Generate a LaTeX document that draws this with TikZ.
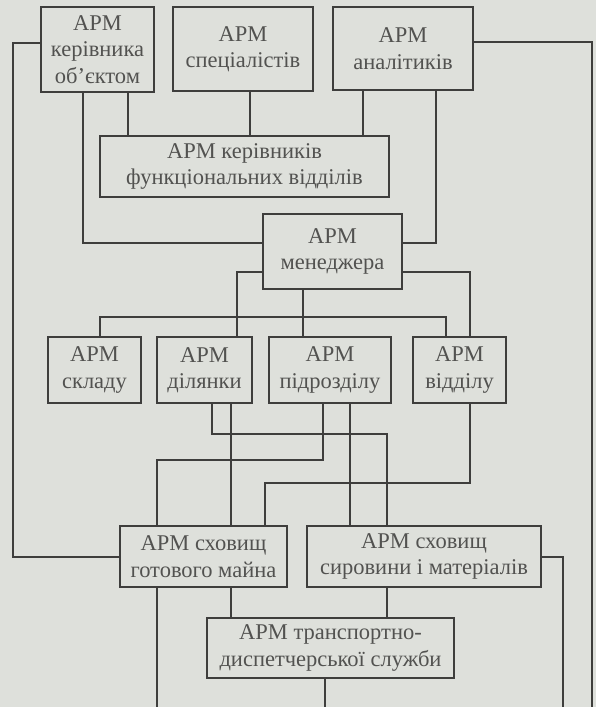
\documentclass[tikz,border=0pt]{standalone}
\usepackage{fontspec}
\setmainfont{Liberation Serif}
\definecolor{paper}{RGB}{222,224,219}
\definecolor{ink}{RGB}{62,62,60}
\definecolor{txt}{RGB}{82,82,80}
\begin{document}
\begin{tikzpicture}[x=1pt,y=-1pt,
  arm/.style={draw=ink,line width=1.3pt,fill=paper,inner sep=0pt,align=center,
    text=txt,font=\fontsize{22.5}{26.5}\selectfont},
  link/.style={draw=ink,line width=1.1pt}]
  % page
  \fill[paper] (0,0) rectangle (596,707);
  \useasboundingbox (0,0) rectangle (596,707);

  % upper level
  \node[arm,minimum width=113pt,minimum height=85pt] (obj) at (97.5,49.5) {АРМ\\керівника\\об’єктом};
  \node[arm,minimum width=140pt,minimum height=84pt] (spec) at (243,49) {АРМ\\спеціалістів};
  \node[arm,minimum width=140pt,minimum height=83pt] (anal) at (403,48.5) {АРМ\\аналітиків};
  \node[arm,minimum width=289pt,minimum height=61pt] (func) at (244.5,166.5) {АРМ керівників\\функціональних відділів};
  \node[arm,minimum width=139pt,minimum height=75pt] (mgr) at (332.5,251.5) {АРМ\\менеджера};

  % units
  \node[arm,minimum width=93pt,minimum height=66pt] (sklad) at (94.5,370) {АРМ\\складу};
  \node[arm,minimum width=95pt,minimum height=66pt] (dil) at (204.5,370) {АРМ\\ділянки};
  \node[arm,minimum width=122pt,minimum height=66pt] (pidr) at (330,370) {АРМ\\підрозділу};
  \node[arm,minimum width=93pt,minimum height=66pt] (vidd) at (459.5,370) {АРМ\\відділу};

  % storage and transport
  \node[arm,minimum width=167pt,minimum height=61pt] (gotov) at (203.5,556.5) {АРМ сховищ\\готового майна};
  \node[arm,minimum width=234pt,minimum height=61pt] (syr) at (424,556.5) {АРМ сховищ\\сировини і матеріалів};
  \node[arm,minimum width=247pt,minimum height=60pt] (trans) at (330.5,648) {АРМ транспортно-\\диспетчерської служби};

  % open ends at the lower edge
  \coordinate (outA) at (592,707);
  \coordinate (outB) at (563,707);
  \coordinate (outC) at (157,707);
  \coordinate (outD) at (325,707);

  % connectors
  \draw[link] (obj.west |- 0,43) -- (13,43) -- (13,557) -- (gotov.west |- 0,557);
  \draw[link] (anal.east |- 0,42) -- (outA |- 0,42) -- (outA);
  \draw[link] (obj.south -| 83,0) -- (83,243) -- (mgr.west |- 0,243);
  \draw[link] (obj.south -| 128,0) -- (func.north -| 128,0);
  \draw[link] (spec.south -| 250,0) -- (func.north -| 250,0);
  \draw[link] (anal.south -| 363,0) -- (func.north -| 363,0);
  \draw[link] (anal.south -| 436,0) -- (436,243) -- (mgr.east |- 0,243);
  \draw[link] (mgr.west |- 0,272) -- (237,272) -- (dil.north -| 237,0);
  \draw[link] (mgr.east |- 0,272) -- (470,272) -- (vidd.north -| 470,0);
  \draw[link] (sklad.north -| 100,0) -- (100,317) -- (446,317) -- (vidd.north -| 446,0);
  \draw[link] (dil.north -| 212,317) -- (dil.north -| 212,0);
  \draw[link] (mgr.south -| 303,0) -- (pidr.north -| 303,0);
  \draw[link] (pidr.north -| 350,317) -- (pidr.north -| 350,0);
  \draw[link] (dil.south -| 212,0) -- (212,434) -- (387,434) -- (syr.north -| 387,0);
  \draw[link] (dil.south -| 231,0) -- (gotov.north -| 231,0);
  \draw[link] (pidr.south -| 323,0) -- (323,460) -- (157,460) -- (gotov.north -| 157,0);
  \draw[link] (pidr.south -| 350,0) -- (syr.north -| 350,0);
  \draw[link] (vidd.south -| 470,0) -- (470,483) -- (265,483) -- (gotov.north -| 265,0);
  \draw[link] (syr.east |- 0,557) -- (outB |- 0,557) -- (outB);
  \draw[link] (gotov.south -| outC) -- (outC);
  \draw[link] (gotov.south -| 231,0) -- (trans.north -| 231,0);
  \draw[link] (syr.south -| 387,0) -- (trans.north -| 387,0);
  \draw[link] (trans.south -| outD) -- (outD);
\end{tikzpicture}
\end{document}
